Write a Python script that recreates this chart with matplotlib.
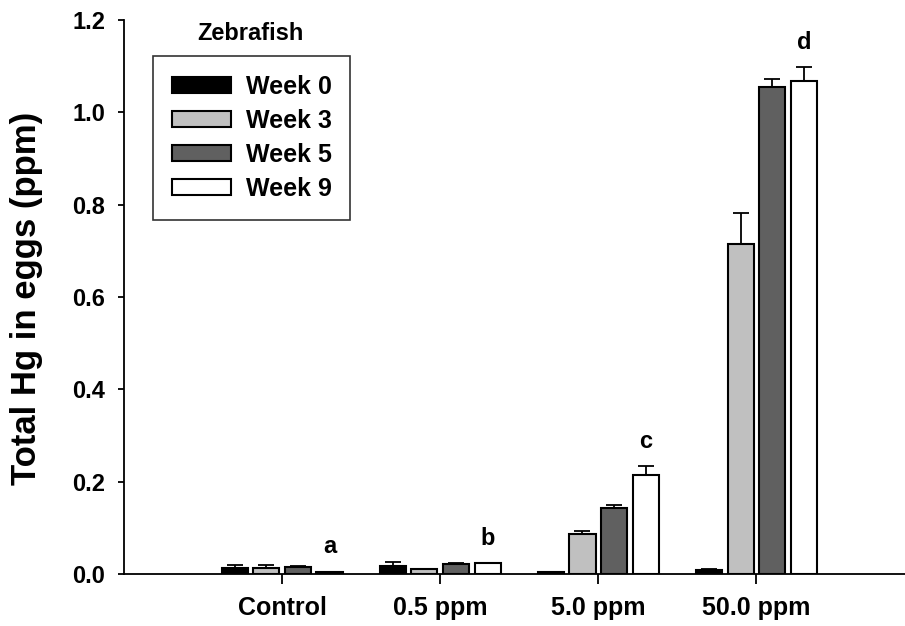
import numpy as np
import matplotlib
matplotlib.use("Agg")
import matplotlib.pyplot as plt
from matplotlib.patches import Patch

plt.rcParams["font.family"] = ["Liberation Sans", "DejaVu Sans"]
plt.rcParams["font.weight"] = "bold"

groups = ["Control", "0.5 ppm", "5.0 ppm", "50.0 ppm"]
weeks = ["Week 0", "Week 3", "Week 5", "Week 9"]

# mean total Hg (ppm) and upper SE per exposure group
week0 = [0.012, 0.018, 0.004, 0.008]
week3 = [0.014, 0.011, 0.087, 0.714]
week5 = [0.016, 0.021, 0.142, 1.055]
week9 = [0.005, 0.023, 0.214, 1.067]
err0 = [0.008, 0.009, 0.000, 0.003]
err3 = [0.005, 0.000, 0.006, 0.068]
err5 = [0.002, 0.002, 0.008, 0.017]
err9 = [0.000, 0.000, 0.019, 0.031]
sig_letters = ["a", "b", "c", "d"]

fills = ["#000000", "#c0c0c0", "#606060", "#ffffff"]

fig = plt.figure(figsize=(9.05, 6.26), dpi=100)
ax = fig.add_axes([124 / 905, 52 / 626, 781 / 905, 554 / 626])

x = np.arange(1, len(groups) + 1)
step = 0.2
width = 0.165
series = [week0, week3, week5, week9]
errs = [err0, err3, err5, err9]

for i, (vals, err, color) in enumerate(zip(series, errs, fills)):
    pos = x + (i - 1.5) * step
    ax.bar(pos, vals, width=width, color=color, edgecolor="black",
           linewidth=1.5, label=weeks[i], zorder=2)
    ax.errorbar(pos, vals, yerr=[np.zeros(len(err)), err], fmt="none",
                ecolor="black", elinewidth=1.3, capsize=6, capthick=1.3,
                zorder=3)

# significance letters above the week 9 bars
top9 = np.array(week9) + np.array(err9)
for xi, yi, letter in zip(x + 1.5 * step, top9, sig_letters):
    ax.text(xi, yi + 0.04, letter, ha="center", va="baseline",
            fontsize=17, fontweight="bold")

ax.set_xlim(0, 4.94)
ax.set_ylim(0, 1.2)
ax.set_yticks(np.arange(0, 1.21, 0.2))
ax.set_yticklabels([f"{v:.1f}" for v in np.arange(0, 1.21, 0.2)])
ax.set_xticks(x)
ax.set_xticklabels(groups)

for side in ["top", "right"]:
    ax.spines[side].set_visible(False)
for side in ["left", "bottom"]:
    ax.spines[side].set_linewidth(1.3)
ax.tick_params(axis="y", direction="out", length=4.5, width=1.3,
               labelsize=17, pad=9)
ax.tick_params(axis="x", direction="out", length=7, width=1.3,
               labelsize=18, pad=9)

fig.text(27 / 905, 1 - 298 / 626, "Total Hg in eggs (ppm)", rotation=90,
         ha="center", va="center", fontsize=25, fontweight="bold")

handles = [Patch(facecolor=c, edgecolor="black", linewidth=1.5) for c in fills]
leg = ax.legend(handles, weeks, loc="upper left",
                bbox_to_anchor=(153 / 905, 1 - 56 / 626),
                bbox_transform=fig.transFigure, fontsize=18,
                frameon=True, fancybox=False, edgecolor="black",
                handlelength=2.35, handleheight=0.65, labelspacing=0.4,
                borderpad=0.75, handletextpad=0.6, borderaxespad=0)
leg.get_frame().set_linewidth(1.2)
fig.text(250 / 905, 1 - 33 / 626, "Zebrafish", ha="center", va="center",
         fontsize=17, fontweight="bold")

fig.savefig("out.png", dpi=100)
